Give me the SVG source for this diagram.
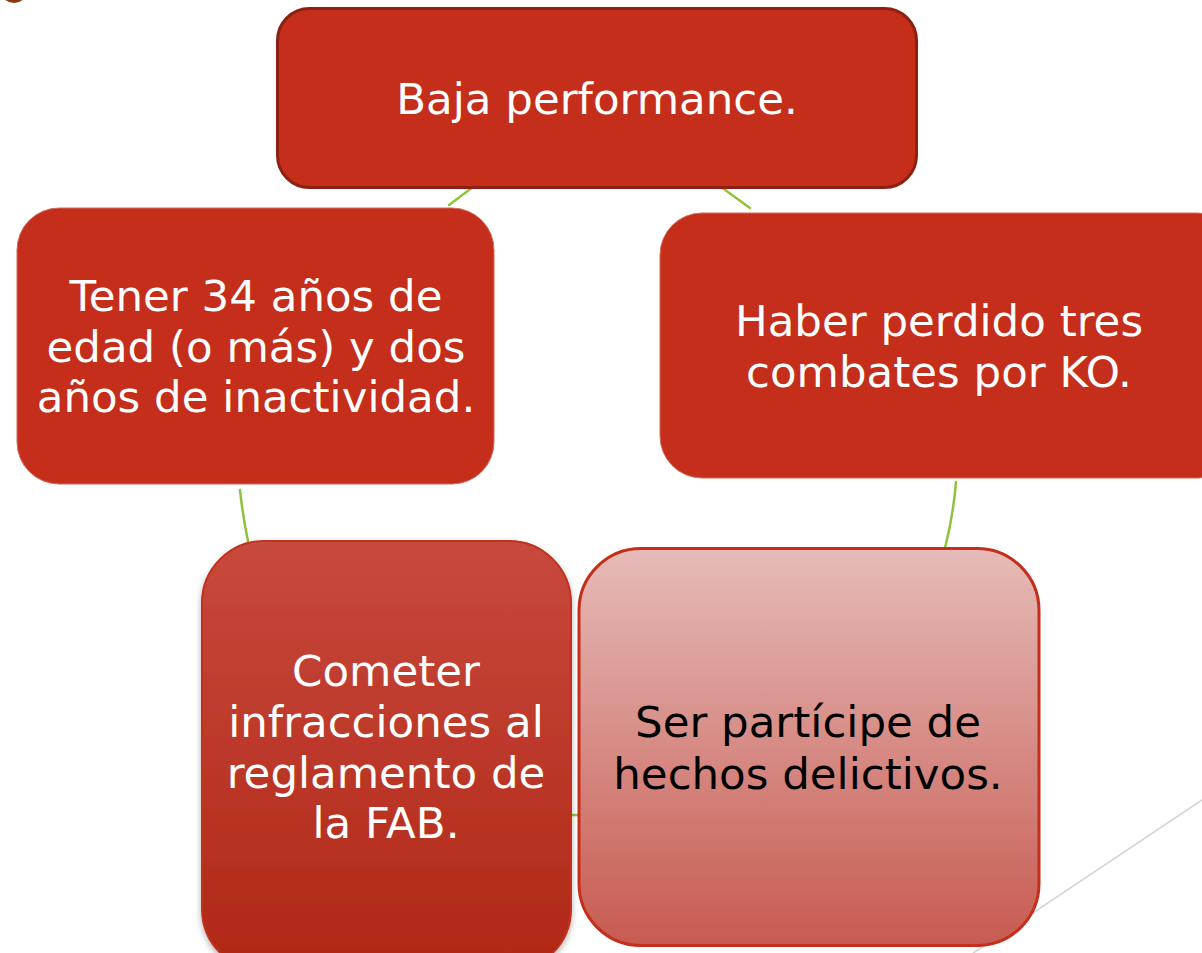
<svg xmlns="http://www.w3.org/2000/svg" width="1202" height="953" viewBox="0 0 1202 953">
<style>
.t{font-family:"DejaVu Sans","Liberation Sans",sans-serif;font-size:43.5px;text-anchor:middle;fill:#ffffff}
.dark{fill:#000000}
.c{fill:none;stroke:#8CC43A;stroke-width:2.5;stroke-linecap:round}
</style>
<defs>
<linearGradient id="gL" x1="0" y1="0" x2="0" y2="1">
<stop offset="0" stop-color="#C8493C"/>
<stop offset="1" stop-color="#B02716"/>
</linearGradient>
<linearGradient id="gR" x1="0" y1="0" x2="0" y2="1">
<stop offset="0" stop-color="#E6BBB8"/>
<stop offset="1" stop-color="#C75B51"/>
</linearGradient>
<filter id="sh" x="-10%" y="-10%" width="120%" height="120%">
<feDropShadow dx="0" dy="3" stdDeviation="3" flood-color="#000" flood-opacity="0.3"/>
</filter>
</defs>
<rect width="1202" height="953" fill="#ffffff"/>
<ellipse cx="14" cy="-9" rx="13" ry="12" fill="#8B3A0E"/>
<line x1="1202" y1="800" x2="973" y2="953" stroke="#D6D6D6" stroke-width="1.8"/>
<g id="connectors">
<path class="c" d="M473,187 L449,205"/>
<path class="c" d="M721,187 L750,208"/>
<path class="c" d="M240,490 Q243,518 248,541"/>
<path class="c" d="M956,482 Q953,517 945,548"/>
<path class="c" d="M572,815 L578,815"/>
</g>
<g id="n1">
<rect x="277.5" y="8.5" width="639" height="179" rx="32" fill="#C42E1A" stroke="#8E2013" stroke-width="3"/>
<text class="t" x="597" y="114">Baja performance.</text>
</g>
<g id="n2">
<rect x="17" y="208" width="477" height="276" rx="42" fill="#C42E1A" stroke="#D4695C" stroke-width="1"/>
<text class="t" x="256" y="311">Tener 34 años de</text>
<text class="t" x="256" y="362">edad (o más) y dos</text>
<text class="t" x="256" y="412">años de inactividad.</text>
</g>
<g id="n3">
<rect x="660" y="213" width="580" height="265" rx="42" fill="#C42E1A" stroke="#D4695C" stroke-width="1"/>
<text class="t" x="939" y="336">Haber perdido tres</text>
<text class="t" x="939" y="387">combates por KO.</text>
</g>
<g id="n4">
<rect x="202" y="541" width="369" height="430" rx="62" fill="url(#gL)" stroke="#C0301E" stroke-width="2" filter="url(#sh)"/>
<text class="t" x="386" y="686">Cometer</text>
<text class="t" x="386" y="737">infracciones al</text>
<text class="t" x="386" y="788">reglamento de</text>
<text class="t" x="386" y="838">la FAB.</text>
</g>
<g id="n5">
<rect x="579" y="548.5" width="460" height="397" rx="62" fill="url(#gR)" stroke="#C42E1A" stroke-width="3"/>
<text class="t dark" x="808" y="737">Ser partícipe de</text>
<text class="t dark" x="808" y="789">hechos delictivos.</text>
</g>
</svg>
